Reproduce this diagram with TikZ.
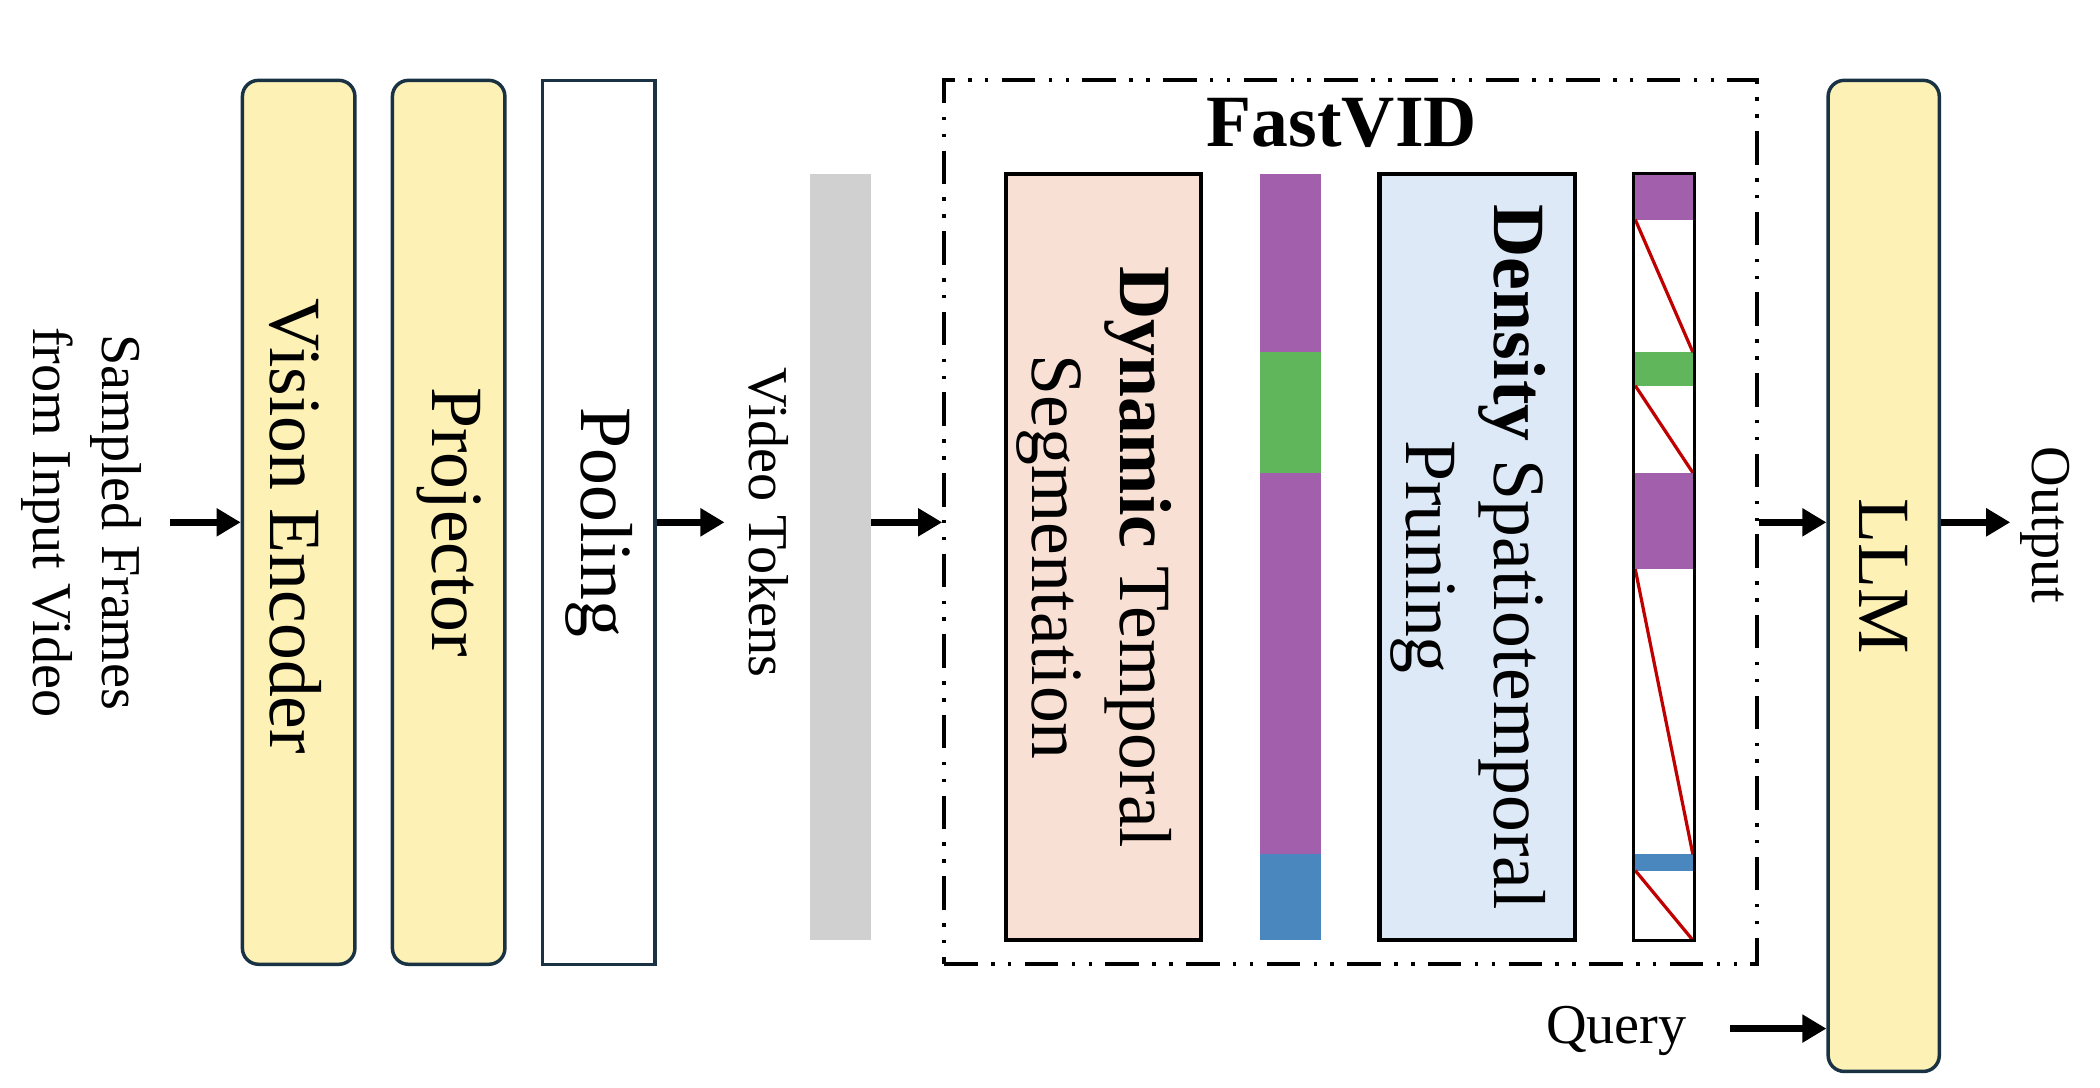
\documentclass[tikz,border=0pt]{standalone}
\usepackage{fontspec}
\setmainfont{Liberation Serif}
\usetikzlibrary{arrows.meta}
\definecolor{yel}{HTML}{FDF1B6}
\definecolor{navy}{HTML}{1A3344}
\definecolor{tokgray}{HTML}{D0D0D0}
\definecolor{peach}{HTML}{F9E0D4}
\definecolor{lblue}{HTML}{DDE9F6}
\definecolor{purp}{HTML}{A25FAB}
\definecolor{grn}{HTML}{60B65B}
\definecolor{blu}{HTML}{4A87BF}
\definecolor{redl}{HTML}{C00000}
\begin{document}
\begin{tikzpicture}[x=0.5pt,y=-0.5pt,
 ybox/.style={draw=navy, line width=1.3pt, fill=yel, rounded corners=6pt, minimum width=42pt, minimum height=330pt, inner sep=0pt},
 wbox/.style={draw=navy, line width=1.3pt, fill=white, minimum width=42pt, minimum height=330pt, inner sep=0pt},
 mbox/.style={draw=black, line width=1.6pt, minimum width=73pt, minimum height=286pt, inner sep=0pt},
 barbox/.style={minimum width=22.5pt, minimum height=286pt, inner sep=0pt},
 big/.style={font=\fontsize{27.5}{33}\selectfont, rotate=-90, align=center, inner sep=0pt},
 small/.style={font=\fontsize{21}{26}\selectfont, rotate=-90, align=center, inner sep=0pt},
 arr/.style={line width=2.4pt, -{Triangle[length=9pt,width=10pt]}},
 fvbox/.style={draw=black, line width=1.5pt, dash pattern=on 12.5pt off 5pt on 1.3pt off 5pt on 1.3pt off 5pt, minimum width=303.5pt, minimum height=330pt, inner sep=0pt}
]
\useasboundingbox (0,0) rectangle (1568,812);

% input
\node[small] (inp) at (61,390) {Sampled Frames\\from Input Video};
\coordinate (inA) at (127,390);

% encoder stack
\node[ybox] (ve) at (223,390) {};
\node[big] (vel) at (221,393) {Vision Encoder};
\node[ybox] (pj) at (335,390) {};
\node[big] (pjl) at (335,390) {Projector};
\node[wbox] (pool) at (447,390) {};
\node[big] (pooll) at (447,390) {Pooling};

\draw[arr] (inA) -- (ve.west);
\coordinate (vtA) at (541,390);
\draw[arr] (pool.east) -- (vtA);

% video tokens
\node[small] (vtl) at (574,390) {Video Tokens};
\node[barbox, fill=tokgray] (tok) at (627.5,416) {};

% FastVID
\node[fvbox] (fv) at (1008.5,390) {};
\node[font=\fontsize{27.5}{33}\selectfont\bfseries, inner sep=0pt] (fvl) at (1002,92) {FastVID};
\draw[arr] (tok.east |- fv.west) -- (fv.west);

\node[mbox, fill=peach] (dts) at (824,416) {};
\node[big] (dtsl) at (817,416) {\textbf{Dynamic} Temporal\\Segmentation};

\node[barbox] (b1) at (963.5,416) {};
\fill[purp] (941,130) rectangle (986,263);
\fill[grn] (941,263) rectangle (986,353);
\fill[purp] (941,353) rectangle (986,638);
\fill[blu] (941,638) rectangle (986,702);

\node[mbox, fill=lblue] (dsp) at (1103,416) {};
\node[big] (dspl) at (1096,416) {\textbf{Density} Spatiotemporal\\Pruning};

\node[barbox, fill=white] (b2) at (1242.5,416) {};
\fill[purp] (1220,130) rectangle (1265,164);
\fill[grn] (1220,263) rectangle (1265,288);
\fill[purp] (1220,353) rectangle (1265,425);
\fill[blu] (1220,638) rectangle (1265,650);
\draw[redl, line width=1.2pt] (1221,164) -- (1264,263);
\draw[redl, line width=1.2pt] (1221,288) -- (1264,353);
\draw[redl, line width=1.2pt] (1221,425) -- (1264,638);
\draw[redl, line width=1.2pt] (1221,650) -- (1264,702);
\draw[black, line width=1pt] (b2.north west) rectangle (b2.south east);

% LLM
\node[ybox, minimum width=41.5pt, minimum height=370pt] (llm) at (1406.5,430) {};
\node[big] (llml) at (1406.5,430) {LLM};
\draw[arr] (fv.east) -- (llm.west |- fv.east);
\coordinate (outA) at (1501,390);
\draw[arr] (llm.east |- fv.east) -- (outA);
\node[small] (outl) at (1527,392) {Output};

% query
\node[font=\fontsize{21}{26}\selectfont, inner sep=0pt] (q) at (1207,770) {Query};
\coordinate (qA) at (1292,768);
\draw[arr] (qA) -- (llm.west |- qA);
\end{tikzpicture}
\end{document}
